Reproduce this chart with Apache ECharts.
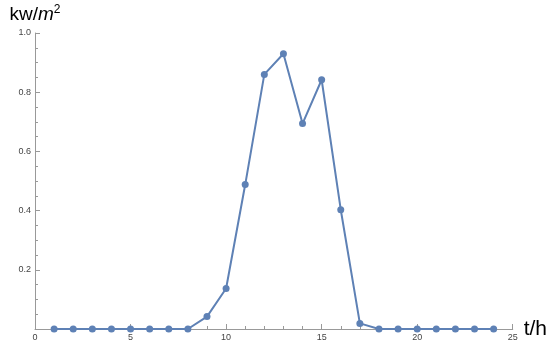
<!DOCTYPE html>
<html>
<head>
<meta charset="utf-8">
<script src="https://cdn.jsdelivr.net/npm/echarts@6/dist/echarts.min.js"></script>
<style>
html, body { margin: 0; padding: 0; background: #fff; }
#main { width: 550px; height: 351px; }
</style>
</head>
<body>
<div id="main"></div>
<script>
// 时刻 (h)
var hours = [1, 2, 3, 4, 5, 6, 7, 8, 9, 10, 11, 12, 13, 14, 15, 16, 17, 18, 19, 20, 21, 22, 23, 24];
// 辐照 (kw/m2)
var power = [0, 0, 0, 0, 0, 0, 0, 0, 0.042, 0.137, 0.488, 0.860, 0.930, 0.694, 0.842, 0.403, 0.019, 0, 0, 0, 0, 0, 0, 0];

var xTicks = [0, 5, 10, 15, 20, 25];
var yTicks = [0.2, 0.4, 0.6, 0.8, 1.0];

var axisGray = '#999999';
var lblGray = '#444444';

var points = [];
for (var i = 0; i < hours.length; i++)
	points.push([hours[i], power[i]]);

var option = {
	animation: false,
	grid: { left: 35, right: 36, top: 33, bottom: 22 },
	xAxis: {
		type: 'value',
		min: xTicks[0],
		max: xTicks[xTicks.length - 1],
		interval: 5,
		name: 't/h',
		nameLocation: 'end',
		nameGap: 5,
		nameTextStyle: { fontSize: 21, color: '#000', fontFamily: 'Liberation Sans', align: 'left', verticalAlign: 'middle', padding: [0, 0, 1, 0] },
		axisLine: { lineStyle: { color: axisGray, width: 1 } },
		axisTick: { inside: true, length: 5, lineStyle: { color: axisGray } },
		minorTick: { show: true, splitNumber: 5, length: 3, lineStyle: { color: axisGray } },
		splitLine: { show: false },
		axisLabel: { fontSize: 9, color: lblGray, margin: 4, fontFamily: 'Liberation Sans' }
	},
	yAxis: {
		type: 'value',
		min: 0,
		max: yTicks[yTicks.length - 1],
		interval: 0.2,
		name: '{a|kw/}{b|m}{c|2}',
		nameLocation: 'end',
		nameGap: 7,
		nameTextStyle: {
			fontFamily: 'Liberation Sans',
			color: '#000',
			align: 'center',
			rich: {
				a: { fontSize: 19, fontFamily: 'Liberation Sans', color: '#000' },
				b: { fontSize: 19, fontFamily: 'Liberation Sans', fontStyle: 'italic', color: '#000' },
				c: { fontSize: 12, fontFamily: 'Liberation Sans', color: '#000', verticalAlign: 'top', padding: [0, 0, 10, 0] }
			}
		},
		axisLine: { show: true, lineStyle: { color: axisGray, width: 1 } },
		axisTick: { show: true, inside: true, length: 5, lineStyle: { color: axisGray } },
		minorTick: { show: true, splitNumber: 4, length: 3, lineStyle: { color: axisGray } },
		splitLine: { show: false },
		axisLabel: {
			fontSize: 9, color: lblGray, margin: 4, fontFamily: 'Liberation Sans',
			formatter: function (v) {
				if (v === 0) return '';
				return v.toFixed(1);
			}
		}
	},
	series: [{
		type: 'line',
		data: points,
		symbol: 'circle',
		symbolSize: 7,
		lineStyle: { color: '#5E81B5', width: 2 },
		itemStyle: { color: '#5E81B5' }
	}]
};

var myChart = echarts.init(document.getElementById('main'));
myChart.setOption(option);
</script>
</body>
</html>
